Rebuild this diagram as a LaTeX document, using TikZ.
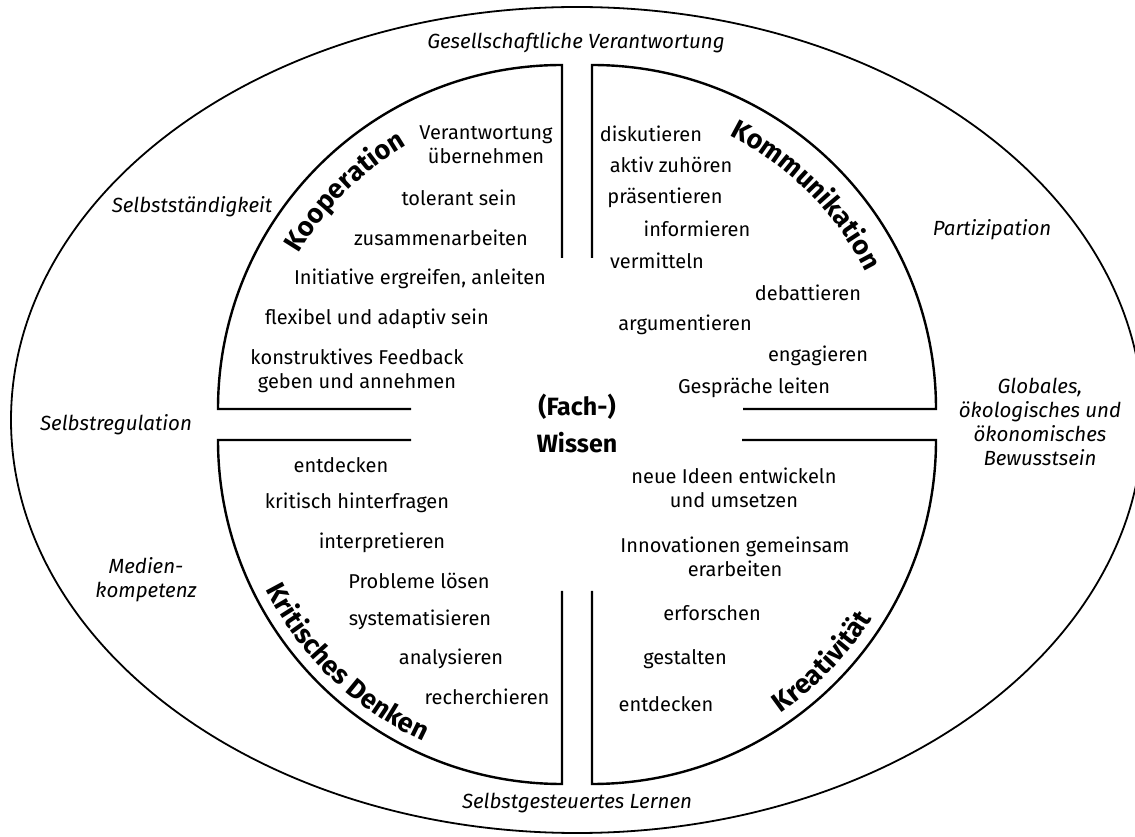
\documentclass[tikz,border=0pt]{standalone}
\usepackage{fontspec}
\setmainfont{Fira Sans}
\usetikzlibrary{decorations.text}
\begin{document}
\begin{tikzpicture}[x=1pt,y=1pt,
  shapeline/.style={line width=2.4pt, line join=miter},
  ring/.style={line width=1.8pt},
  lbl/.style={font=\fontsize{20}{24}\selectfont, align=center, inner sep=0pt},
  outerlbl/.style={font=\itshape\fontsize{20.5}{24}\selectfont, align=center, inner sep=0pt},
  core/.style={font=\bfseries\fontsize{25}{37}\selectfont, align=center, inner sep=0pt},
  headfont/.style={decorate, decoration={text along path, text align=center, text={|\bfseries\fontsize{27}{30}\selectfont|#1}}}]
\useasboundingbox (0,0) rectangle (1135,836);
% outer ellipse
\draw[ring] (577,416) ellipse [x radius=566, y radius=413];
% four quarter shapes
\draw[shapeline] (562,578) -- (562,771) arc[start angle=90,end angle=180,radius=344] -- (411,427);
\draw[shapeline] (743,427) -- (936,427) arc[start angle=0,end angle=90,radius=344] -- (592,578);
\draw[shapeline] (411,396) -- (218,396) arc[start angle=180,end angle=270,radius=344] -- (562,245);
\draw[shapeline] (592,245) -- (592,52) arc[start angle=270,end angle=360,radius=344] -- (742,396);
% curved headings
\path[headfont=Kooperation] ([shift={(170:306)}]562,427) arc[start angle=170,end angle=100,radius=306];
\path[headfont=Kommunikation] ([shift={(80:306)}]592,427) arc[start angle=80,end angle=10,radius=306];
\path[headfont=Kritisches Denken] ([shift={(186:332)}]562,396) arc[start angle=186,end angle=266,radius=332];
\path[headfont=Kreativität] ([shift={(281:332)}]592,396) arc[start angle=281,end angle=351,radius=332];
% centre
\node[core] (wissen) at (577,413) {(Fach-)\\Wissen};
% outer labels
\node[outerlbl] (gesell) at (576,793) {Gesellschaftliche Verantwortung};
\node[outerlbl] (selbststaendig) at (192,629) {Selbstständigkeit};
\node[outerlbl] (partizipation) at (992,606) {Partizipation};
\node[outerlbl] (selbstreg) at (116,411) {Selbstregulation};
\node[outerlbl] (global) at (1040,414) {Globales,\\ökologisches und\\ökonomisches\\Bewusstsein};
\node[outerlbl] (medien) at (146,256) {Medien-\\kompetenz};
\node[outerlbl] (lernen) at (577,33) {Selbstgesteuertes Lernen};
% Kooperation
\node[lbl] (k1) at (486,691) {Verantwortung\\übernehmen};
\node[lbl] (k2) at (459,638) {tolerant sein};
\node[lbl] (k3) at (441,598) {zusammenarbeiten};
\node[lbl] (k4) at (420,557) {Initiative ergreifen, anleiten};
\node[lbl] (k5) at (377,517) {flexibel und adaptiv sein};
\node[lbl] (k6) at (357,465) {konstruktives Feedback\\geben und annehmen};
% Kommunikation
\node[lbl] (m1) at (651,702) {diskutieren};
\node[lbl] (m2) at (671,671) {aktiv zuhören};
\node[lbl] (m3) at (665,638) {präsentieren};
\node[lbl] (m4) at (697,607) {informieren};
\node[lbl] (m5) at (657,575) {vermitteln};
\node[lbl] (m6) at (808,543) {debattieren};
\node[lbl] (m7) at (685,511) {argumentieren};
\node[lbl] (m8) at (818,480) {engagieren};
\node[lbl] (m9) at (754,448) {Gespräche leiten};
% Kritisches Denken
\node[lbl] (d1) at (341,371) {entdecken};
\node[lbl] (d2) at (357,333) {kritisch hinterfragen};
\node[lbl] (d3) at (382,293) {interpretieren};
\node[lbl] (d4) at (419,255) {Probleme lösen};
\node[lbl] (d5) at (420,216) {systematisieren};
\node[lbl] (d6) at (451,177) {analysieren};
\node[lbl] (d7) at (487,139) {recherchieren};
% Kreativitaet
\node[lbl] (c1) at (734,348) {neue Ideen entwickeln\\und umsetzen};
\node[lbl] (c2) at (735,279) {Innovationen gemeinsam\\erarbeiten};
\node[lbl] (c3) at (712,223) {erforschen};
\node[lbl] (c4) at (685,177) {gestalten};
\node[lbl] (c5) at (666,132) {entdecken};
\end{tikzpicture}
\end{document}
